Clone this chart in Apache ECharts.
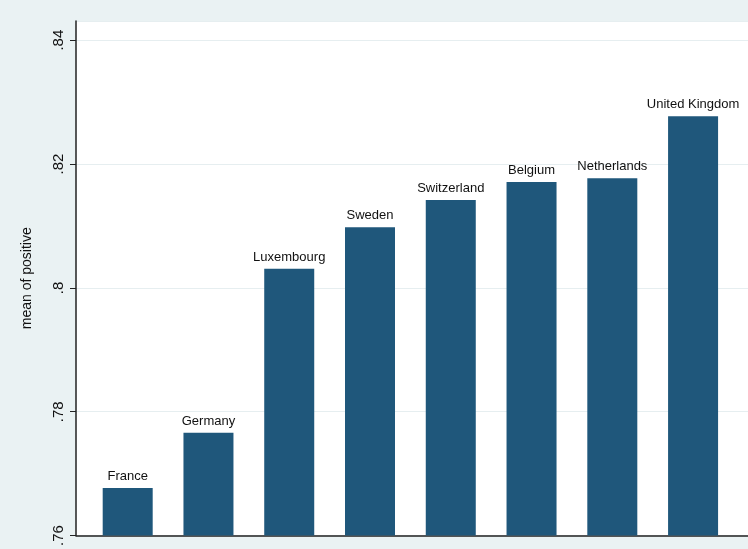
<!DOCTYPE html>
<html><head><meta charset="utf-8">
<script src="https://cdn.jsdelivr.net/npm/echarts@6/dist/echarts.min.js"></script>
<style>html,body{margin:0;padding:0;background:#eaf2f3}#c{width:748px;height:549px}</style>
</head><body><div id="c"></div>
<script>
const categories = ["France","Germany","Luxembourg","Sweden","Switzerland","Belgium","Netherlands","United Kingdom"];
const values = [0.7677,0.7766,0.8031,0.8098,0.8142,0.8171,0.8177,0.8277];
const yTicks = [0.76,0.78,0.80,0.82,0.84];
const chart = echarts.init(document.getElementById('c'));
chart.setOption({
  backgroundColor:'#eaf2f3',
  animation:false,
  grid:{left:76,right:0,top:21,bottom:13,show:true,backgroundColor:'#fff',borderWidth:0},
  xAxis:{type:'value',min:-0.64,max:7.68,axisLabel:{show:false},axisTick:{show:false},splitLine:{show:false},
    axisLine:{show:true,onZero:false,lineStyle:{color:'#222',width:1.5}}},
  yAxis:{type:'value',min:0.76,max:0.8431,interval:0.02,name:'mean of positive',nameLocation:'middle',nameGap:42,
    nameTextStyle:{fontFamily:'Liberation Sans',fontSize:14,color:'#111'},
    axisLine:{show:true,onZero:false,lineStyle:{color:'#222',width:1.5}},axisTick:{show:true,length:6,lineStyle:{color:'#222'}},
    axisLabel:{rotate:90,fontFamily:'Liberation Sans',fontSize:15,color:'#111',margin:10,showMaxLabel:false,
      formatter:v=>{const t=yTicks.find(x=>Math.abs(x-v)<1e-6);return t===undefined?'':t.toFixed(2).replace(/^0/,'').replace(/0$/,'');}},
    splitLine:{show:true,lineStyle:{color:'#e6eef0',width:1}}},
  series:[{type:'bar',barWidth:50,data:values.map((v,i)=>[i,v]),
    itemStyle:{color:'#1f577b'},
    label:{show:true,position:'top',distance:5,fontFamily:'Liberation Sans',fontSize:13,color:'#111',
      formatter:p=>categories[p.dataIndex]}}]
});
</script></body></html>
